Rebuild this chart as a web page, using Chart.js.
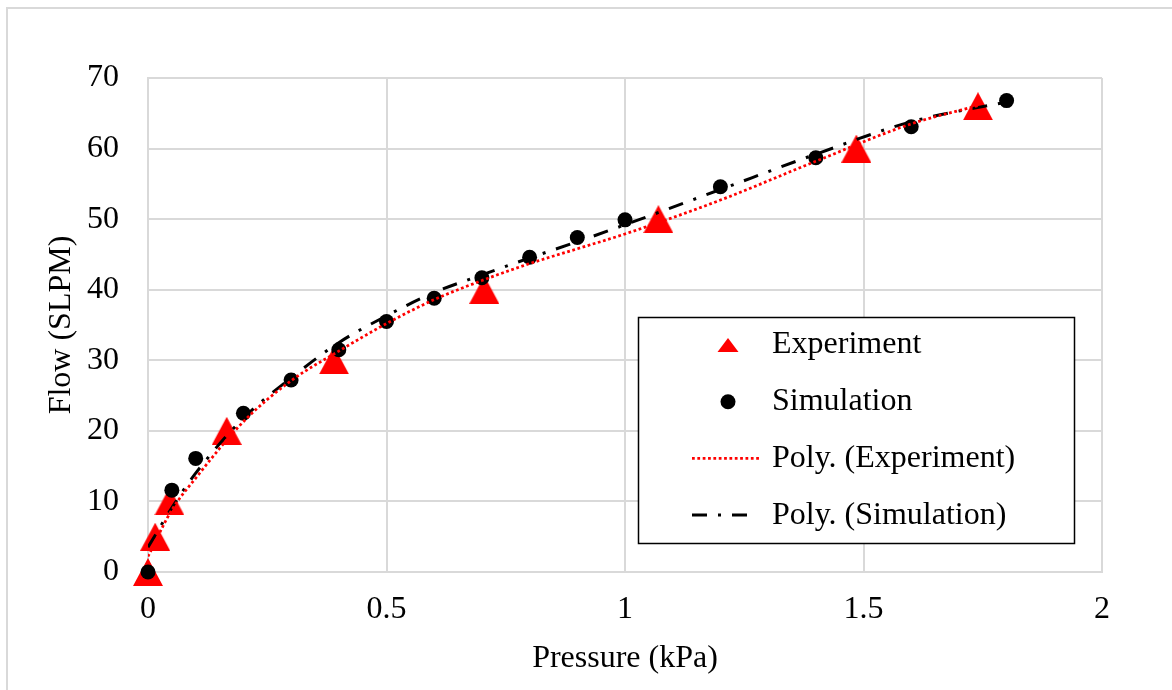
<!DOCTYPE html>
<html><head><meta charset="utf-8">
<script src="https://cdn.jsdelivr.net/npm/chart.js@4/dist/chart.umd.min.js"></script>
<style>html,body{margin:0;padding:0;background:#fff;}#wrap{width:1172px;height:690px;}</style>
</head><body><div id="wrap"><canvas id="c" width="1172" height="690"></canvas></div>
<script>
// ---- data ----
const expPressure = [0, 0.015, 0.045, 0.165, 0.39, 0.705, 1.07, 1.485, 1.74];
const expFlow     = [0, 5, 10, 20, 30, 40, 50, 60, 66];
const simPressure = [0, 0.05, 0.1, 0.2, 0.3, 0.4, 0.5, 0.6, 0.7, 0.8, 0.9, 1.0, 1.2, 1.4, 1.6, 1.8];
const simFlow     = [0, 11.6, 16.1, 22.5, 27.2, 31.5, 35.5, 38.8, 41.7, 44.6, 47.4, 49.9, 54.6, 58.7, 63.1, 66.8];
const expTrendPressure = [0, 0.05, 0.1, 0.2, 0.3, 0.4, 0.5, 0.6, 0.7, 0.8, 0.9, 1.0, 1.2, 1.4, 1.6, 1.74];
const expTrendFlow     = [2.2, 8.8, 13.3, 21.3, 27.1, 31.3, 35.2, 38.6, 41.3, 43.7, 45.8, 47.9, 52.7, 58.2, 63.5, 66.1];
const simTrendPressure = [0, 0.05, 0.1, 0.2, 0.3, 0.4, 0.5, 0.6, 0.7, 0.8, 0.9, 1.0, 1.2, 1.4, 1.6, 1.8];
const simTrendFlow     = [3.5, 9.1, 14.0, 21.8, 27.5, 32.5, 36.3, 39.6, 42.1, 44.5, 46.8, 49.2, 54.2, 59.2, 63.8, 66.6];
const xTickValues = [0, 0.5, 1, 1.5, 2];
const xTickLabels = ['0', '0.5', '1', '1.5', '2'];
const yTickValues = [0, 10, 20, 30, 40, 50, 60, 70];
const yTickLabels = ['0', '10', '20', '30', '40', '50', '60', '70'];
const seriesNames = ['Experiment', 'Simulation', 'Poly. (Experiment)', 'Poly. (Simulation)'];
const xTitle = 'Pressure (kPa)';
const yTitle = 'Flow (SLPM)';

const pts = (xs, ys) => xs.map((x, i) => ({x: x, y: ys[i]}));
const FONT = {family: '"Liberation Serif", "Times New Roman", serif', size: 32};

// triangle marker image
const tri = document.createElement('canvas');
tri.width = 30; tri.height = 28;
(function(){const g = tri.getContext('2d'); g.fillStyle = '#ff0000'; g.beginPath(); g.moveTo(15,0); g.lineTo(30,28); g.lineTo(0,28); g.closePath(); g.fill();})();

const DASH_RED = [2.75, 2.6];
const DASH_BLK = [15, 11, 3, 11];

const bgBorder = {
  id: 'bgBorder',
  beforeDraw(chart) {
    const ctx = chart.ctx;
    ctx.save();
    ctx.fillStyle = '#fff'; ctx.fillRect(0, 0, chart.width, chart.height);
    ctx.strokeStyle = '#d9d9d9'; ctx.lineWidth = 2;
    ctx.strokeRect(7, 8, 1200, 720);
    ctx.restore();
  }
};

const legendBox = {
  id: 'legendBox',
  afterDraw(chart) {
    const ctx = chart.ctx;
    const L = 638, T = 317, W = 436, H = 226;
    ctx.save();
    ctx.fillStyle = '#fff'; ctx.fillRect(L, T, W, H);
    ctx.strokeStyle = '#000'; ctx.lineWidth = 1.5; ctx.strokeRect(L + 0.5, T + 0.5, W, H);
    const ds = chart.data.datasets;
    ds.forEach((d, i) => {
      const y = 345 + i * 56.7;
      const mx = 728;
      if (i === 0) {
        ctx.fillStyle = d.backgroundColor;
        ctx.beginPath(); ctx.moveTo(mx, y - 7); ctx.lineTo(mx + 10.5, y + 7); ctx.lineTo(mx - 10.5, y + 7); ctx.closePath(); ctx.fill();
      } else if (i === 1) {
        ctx.fillStyle = d.backgroundColor;
        ctx.beginPath(); ctx.arc(mx, y, 7.5, 0, Math.PI * 2); ctx.fill();
      } else {
        ctx.strokeStyle = d.borderColor; ctx.lineWidth = d.borderWidth;
        ctx.setLineDash(d.borderDash);
        ctx.beginPath(); ctx.moveTo(692, y); ctx.lineTo(i === 2 ? 760 : 752, y); ctx.stroke();
        ctx.setLineDash([]);
      }
      ctx.fillStyle = '#000';
      ctx.font = FONT.size + 'px ' + FONT.family;
      ctx.textBaseline = 'middle'; ctx.textAlign = 'left';
      ctx.fillText(d.label, 772, y);
    });
    ctx.restore();
  }
};

new Chart(document.getElementById('c'), {
  type: 'scatter',
  data: {
    datasets: [
      {label: seriesNames[0], data: pts(expPressure, expFlow), pointStyle: tri, pointRadius: 15, backgroundColor: '#ff0000', borderWidth: 0, order: 3, clip: false},
      {label: seriesNames[1], data: pts(simPressure, simFlow), pointStyle: 'circle', pointRadius: 7.5, backgroundColor: '#000', borderWidth: 0, order: 2, clip: false},
      {label: seriesNames[2], data: pts(expTrendPressure, expTrendFlow), showLine: true, pointRadius: 0, borderColor: '#ff0000', borderWidth: 2.75, borderDash: DASH_RED, cubicInterpolationMode: 'monotone', fill: false, order: 0},
      {label: seriesNames[3], data: pts(simTrendPressure, simTrendFlow), showLine: true, pointRadius: 0, borderColor: '#000', borderWidth: 3, borderDash: DASH_BLK, cubicInterpolationMode: 'monotone', fill: false, order: 1}
    ]
  },
  options: {
    responsive: false, animation: false, devicePixelRatio: 1,
    layout: {padding: {top: 78, right: 70, bottom: 8, left: 0}},
    plugins: {legend: {display: false}, tooltip: {enabled: false}},
    scales: {
      x: {
        type: 'linear', min: 0, max: 2,
        afterBuildTicks: s => { s.ticks = xTickValues.map(v => ({value: v})); },
        afterFit: s => { s.height = 110; },
        grid: {color: '#d9d9d9', lineWidth: 2, drawTicks: false},
        border: {display: true, color: '#d9d9d9', width: 2},
        ticks: {font: FONT, color: '#000', padding: 18, maxRotation: 0, callback: (v) => xTickLabels[xTickValues.indexOf(v)]},
        title: {display: true, text: xTitle, font: FONT, color: '#000', padding: {top: 0, bottom: 4}}
      },
      y: {
        type: 'linear', min: 0, max: 70,
        afterBuildTicks: s => { s.ticks = yTickValues.map(v => ({value: v})); },
        afterFit: s => { s.width = 148; },
        grid: {color: '#d9d9d9', lineWidth: 2, drawTicks: false},
        border: {display: true, color: '#d9d9d9', width: 2},
        ticks: {font: FONT, color: '#000', padding: 29, callback: (v) => yTickLabels[yTickValues.indexOf(v)]},
        title: {display: true, text: yTitle, font: FONT, color: '#000', padding: {top: 42, bottom: 0}}
      }
    }
  },
  plugins: [bgBorder, legendBox]
});
</script></body></html>
